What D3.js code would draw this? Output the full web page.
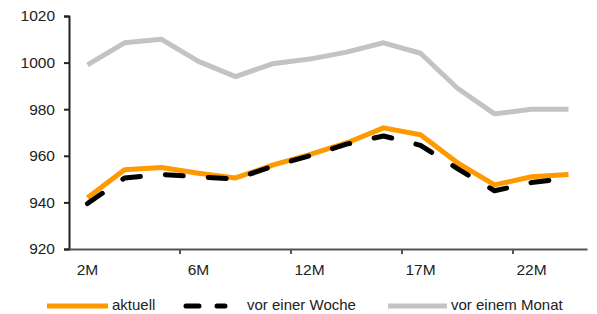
<!DOCTYPE html>
<html>
<head>
<meta charset="utf-8">
<script src="https://cdn.jsdelivr.net/npm/d3@7"></script>
<style>
  body { margin: 0; background: #fff; }
  text { font-family: "Liberation Sans", Arial, sans-serif; fill: #222; }
</style>
</head>
<body>
<div id="chart"></div>
<script>
// categories (only every third one is labelled in the original)
var categories = ["2M", "3M", "5M", "6M", "8M", "10M", "12M", "13M", "15M", "17M", "18M", "20M", "22M", "24M"];
var shownLabels = ["2M", "6M", "12M", "17M", "22M"];
var yTicks = [920, 940, 960, 980, 1000, 1020];

var aktuell = [942, 954, 955, 952.5, 950.5, 956, 960.5, 965.5, 972, 969, 957, 947.5, 951, 952];
var vorWoche = [939.5, 950.5, 952, 951, 950, 955.5, 960, 965, 968.5, 964.5, 954.5, 945, 948.5, 950.5];
var vorMonat = [999, 1008.5, 1010, 1000.5, 994, 999.5, 1001.5, 1004.5, 1008.5, 1004, 989, 978, 980, 980];

var series = [
    {name: "vor einem Monat", values: vorMonat, color: "#c3c3c3", dash: null},
    {name: "aktuell", values: aktuell, color: "#ff9900", dash: null},
    {name: "vor einer Woche", values: vorWoche, color: "#000", dash: "18,25"}
];

var width = 597, height = 314;
var margin = {top: 16, right: 10, bottom: 65, left: 69};

var svg = d3.select("#chart").append("svg")
    .attr("width", width)
    .attr("height", height);

var x = d3.scaleBand()
    .domain(categories)
    .range([margin.left, 587]);

var y = d3.scaleLinear()
    .domain([920, 1020])
    .range([249, margin.top]);

function cx(i) { return x(categories[i]) + x.bandwidth() / 2; }

// lines
var line = d3.line()
    .x(function(d, i) { return cx(i); })
    .y(function(d) { return y(d); });

series.forEach(function(s) {
    svg.append("path")
        .datum(s.values)
        .attr("fill", "none")
        .attr("stroke", s.color)
        .attr("stroke-width", 5)
        .attr("stroke-linejoin", "round")
        .attr("stroke-linecap", s.dash ? "round" : "butt")
        .attr("stroke-dasharray", s.dash)
        .attr("d", line);
});

// y axis
var yAxis = svg.append("g")
    .attr("transform", "translate(" + margin.left + ",0)")
    .call(d3.axisLeft(y).tickValues(yTicks).tickFormat(d3.format("d")).tickSize(5).tickPadding(9));
yAxis.select(".domain").attr("stroke", "#222").attr("stroke-width", 2);
yAxis.selectAll(".tick line").attr("stroke", "#222").attr("stroke-width", 2);
yAxis.selectAll("text").attr("font-size", 15.5).attr("fill", "#222")
    .attr("font-family", "Liberation Sans, Arial, sans-serif");

// x axis: labels at every third category, ticks between categories
var xAxis = svg.append("g")
    .attr("transform", "translate(0,249)")
    .call(d3.axisBottom(x).tickValues(shownLabels).tickSize(0).tickPadding(15));
xAxis.select(".domain").attr("stroke", "#555").attr("stroke-width", 2);
xAxis.selectAll("text").attr("font-size", 15.5).attr("fill", "#222")
    .attr("font-family", "Liberation Sans, Arial, sans-serif");

[3, 6, 9, 12].forEach(function(i) {
    var tx = x(categories[i]);
    svg.append("line")
        .attr("x1", tx).attr("x2", tx)
        .attr("y1", 249).attr("y2", 254)
        .attr("stroke", "#555")
        .attr("stroke-width", 2);
});

// legend
var legendItems = [
    {name: "aktuell", color: "#ff9900", dash: null, x1: 47, x2: 108},
    {name: "vor einer Woche", color: "#000", dash: "13,18", x1: 186, x2: 225},
    {name: "vor einem Monat", color: "#c3c3c3", dash: null, x1: 388, x2: 447}
];
var legendY = 306;
var legend = svg.append("g");
legendItems.forEach(function(d) {
    legend.append("line")
        .attr("x1", d.x1).attr("x2", d.x2)
        .attr("y1", legendY).attr("y2", legendY)
        .attr("stroke", d.color)
        .attr("stroke-width", 5)
        .attr("stroke-linecap", d.dash ? "round" : "butt")
        .attr("stroke-dasharray", d.dash);
    legend.append("text")
        .attr("x", d.dash ? 247 : d.x2 + 4)
        .attr("y", legendY + 4)
        .attr("font-size", 15)
        .text(d.name);
});
</script>
</body>
</html>
